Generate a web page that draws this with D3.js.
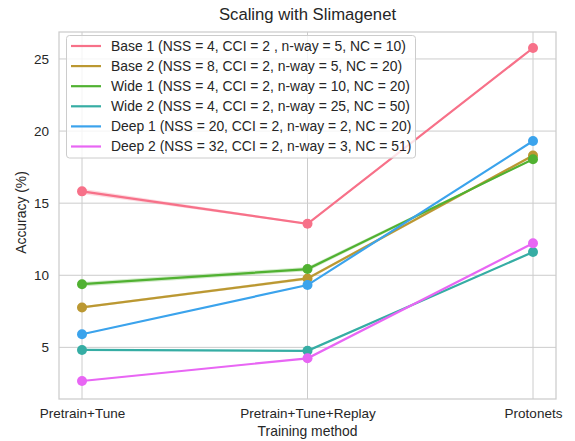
<!DOCTYPE html>
<html><head><meta charset="utf-8">
<script src="https://cdn.jsdelivr.net/npm/d3@7/dist/d3.min.js"></script>
<style>body{margin:0;background:#fff}svg{display:block}text{font-family:"Liberation Sans",Arial,sans-serif;fill:#262626}</style>
</head><body><svg id="c" width="575" height="441"></svg>
<script>
const categories = ["Pretrain+Tune", "Pretrain+Tune+Replay", "Protonets"];
const seriesNames = [
  "Base 1 (NSS = 4, CCI = 2 , n-way = 5, NC = 10)",
  "Base 2 (NSS = 8, CCI = 2, n-way = 5, NC = 20)",
  "Wide 1 (NSS = 4, CCI = 2, n-way = 10, NC = 20)",
  "Wide 2 (NSS = 4, CCI = 2, n-way = 25, NC = 50)",
  "Deep 1 (NSS = 20, CCI = 2, n-way = 2, NC = 20)",
  "Deep 2 (NSS = 32, CCI = 2, n-way = 3, NC = 51)"
];
const base1 = [15.82, 13.57, 25.76];
const base2 = [7.77, 9.78, 18.3];
const wide1 = [9.38, 10.43, 18.05];
const wide2 = [4.82, 4.76, 11.61];
const deep1 = [5.91, 9.32, 19.31];
const deep2 = [2.67, 4.24, 12.22];
const ciBase1 = [0.18, 0.05, 0.05];
const ciBase2 = [0.08, 0.1, 0.1];
const ciWide1 = [0.15, 0.15, 0.05];
const ciWide2 = [0.05, 0.05, 0.05];
const ciDeep1 = [0.03, 0.03, 0.03];
const ciDeep2 = [0.03, 0.03, 0.03];
const colors = ["#f77189", "#bb9832", "#50b131", "#36ada4", "#3ba3ec", "#e866f4"];
const yTicks = [5, 10, 15, 20, 25];

const values = [base1, base2, wide1, wide2, deep1, deep2];
const cis = [ciBase1, ciBase2, ciWide1, ciWide2, ciDeep1, ciDeep2];

const svg = d3.select("#c");
const L = 59, R = 556, T = 32, B = 399;
const x = d3.scalePoint().domain(categories).range([82, 533]);
const y = d3.scaleLinear().domain([1.42, 26.87]).range([B, T]);

// grid
svg.append("g").selectAll("line").data(yTicks).join("line")
  .attr("x1", L).attr("x2", R).attr("y1", d => y(d)).attr("y2", d => y(d))
  .attr("stroke", "#cccccc").attr("stroke-width", 1);
svg.append("g").selectAll("line").data(categories).join("line")
  .attr("x1", d => x(d)).attr("x2", d => x(d)).attr("y1", T).attr("y2", B)
  .attr("stroke", "#cccccc").attr("stroke-width", 1);
svg.append("rect").attr("x", L).attr("y", T).attr("width", R - L).attr("height", B - T)
  .attr("fill", "none").attr("stroke", "#cccccc").attr("stroke-width", 1.25);

// axes
const yAxis = svg.append("g").attr("transform", `translate(${L},0)`)
  .call(d3.axisLeft(y).tickValues(yTicks).tickSize(0).tickPadding(10));
yAxis.select(".domain").remove();
yAxis.selectAll("text").style("font-size", "13.5px").attr("fill", "#262626");
const xAxis = svg.append("g").attr("transform", `translate(0,${B})`)
  .call(d3.axisBottom(x).tickSize(0).tickPadding(9));
xAxis.select(".domain").remove();
xAxis.selectAll("text").style("font-size", "13.5px").attr("fill", "#262626");

// series
const line = d3.line().x((d, i) => x(categories[i])).y(d => y(d));
const area = d3.area().x((d, i) => x(categories[i])).y0(d => y(d[0])).y1(d => y(d[1]));
values.forEach((vals, s) => {
  const band = vals.map((v, i) => [v - cis[s][i], v + cis[s][i]]);
  svg.append("path").attr("d", area(band)).attr("fill", colors[s]).attr("opacity", 0.25);
  svg.append("path").attr("d", line(vals)).attr("fill", "none")
    .attr("stroke", colors[s]).attr("stroke-width", 2.2);
  svg.append("g").selectAll("circle").data(vals).join("circle")
    .attr("cx", (d, i) => x(categories[i])).attr("cy", d => y(d)).attr("r", 5)
    .attr("fill", colors[s]);
});

// legend
const lg = svg.append("g");
lg.append("rect").attr("x", 66.5).attr("y", 35.5).attr("width", 349).attr("height", 122.5)
  .attr("rx", 3).attr("fill", "#fff").attr("fill-opacity", 0.8).attr("stroke", "#cccccc");
seriesNames.forEach((n, i) => {
  const yy = 46 + i * 20.1;
  lg.append("line").attr("x1", 71).attr("x2", 101).attr("y1", yy).attr("y2", yy)
    .attr("stroke", colors[i]).attr("stroke-width", 2.2);
  lg.append("text").attr("x", 111).attr("y", yy).attr("dy", "0.35em")
    .style("font-size", "13.9px").text(n);
});

// labels
svg.append("text").attr("x", (L + R) / 2).attr("y", 20).attr("text-anchor", "middle")
  .style("font-size", "16.7px").text("Scaling with Slimagenet");
svg.append("text").attr("x", (L + R) / 2).attr("y", 436).attr("text-anchor", "middle")
  .style("font-size", "13.9px").text("Training method");
svg.append("text").attr("transform", `translate(26,${(T + B) / 2 - 3}) rotate(-90)`)
  .attr("text-anchor", "middle").style("font-size", "13.9px").text("Accuracy (%)");
</script></body></html>
